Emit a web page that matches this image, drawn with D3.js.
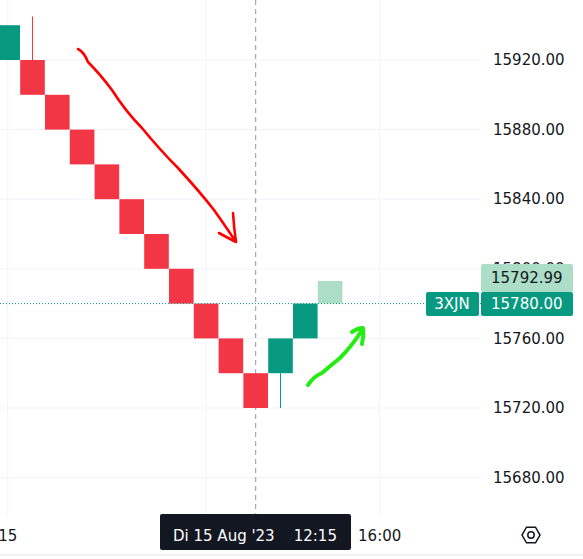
<!DOCTYPE html>
<html lang="en">
<head>
<meta charset="utf-8">
<title>Renko</title>
<style>
  body { margin: 0; background: #fff; }
  svg { display: block; font-family: "DejaVu Sans", sans-serif; }
</style>
</head>
<body>
<svg id="chart" width="583" height="559"></svg>
<script src="https://d3js.org/d3.v7.min.js"></script>
<script>
// renko bricks, box size 20
const brickOpen  = [15920, 15920, 15900, 15880, 15860, 15840, 15820, 15800, 15780, 15760, 15740, 15740, 15760, 15780];
const brickClose = [15940, 15900, 15880, 15860, 15840, 15820, 15800, 15780, 15760, 15740, 15720, 15760, 15780, 15792.99];
const wickHigh   = [null, 15945, null, null, null, null, null, null, null, null, null, null, null, null];
const wickLow    = [null, null, null, null, null, null, null, null, null, null, null, 15720, null, null];
const priceTicks = [15680, 15720, 15760, 15800, 15840, 15880, 15920];
const timeTicks  = [{i: 0, label: "15"}, {i: 15, label: "16:00"}];
const gridIdx    = [0, 8, 15];
const lastPrice = 15780, livePrice = 15792.99, symbol = "3XJN";
const crossIdx = 10, crossLabel = "Di 15 Aug '23    12:15";

const red = "#F23645", green = "#089981", lightGreen = "#ACDDC6";
const svg = d3.select("#chart");
const plotRight = 481, plotBottom = 515;
const fs = 15;

const x = d3.scaleLinear().domain([0, 1]).range([7.7, 32.5]);
const y = d3.scaleLinear().domain([15920, 15720]).range([60, 408]);
const bw = 24.6;

// grid
svg.append("g").selectAll("line").data(priceTicks).join("line")
  .attr("x1", 0).attr("x2", plotRight).attr("y1", d => y(d)).attr("y2", d => y(d))
  .attr("stroke", "#f0f3fa");
svg.append("g").selectAll("line").data(gridIdx).join("line")
  .attr("x1", d => x(d)).attr("x2", d => x(d)).attr("y1", 0).attr("y2", plotBottom)
  .attr("stroke", "#f0f3fa");

// crosshair
svg.append("line").attr("x1", x(crossIdx)).attr("x2", x(crossIdx))
  .attr("y1", 0).attr("y2", plotBottom)
  .attr("stroke", "#9598a1").attr("stroke-dasharray", "5,4");

// wicks
const wicks = brickOpen.map((o, i) => ({i, hi: wickHigh[i], lo: wickLow[i]}));
svg.append("g").selectAll("line").data(wicks.filter(d => d.hi !== null)).join("line")
  .attr("x1", d => x(d.i)).attr("x2", d => x(d.i))
  .attr("y1", d => y(d.hi)).attr("y2", d => y(Math.max(brickOpen[d.i], brickClose[d.i])))
  .attr("stroke", red);
svg.append("g").selectAll("line").data(wicks.filter(d => d.lo !== null)).join("line")
  .attr("x1", d => x(d.i)).attr("x2", d => x(d.i))
  .attr("y1", d => y(d.lo)).attr("y2", d => y(Math.min(brickOpen[d.i], brickClose[d.i])))
  .attr("stroke", green);

// bricks
const last = brickOpen.length - 1;
svg.append("g").selectAll("rect").data(brickOpen).join("rect")
  .attr("x", (d, i) => x(i) - bw / 2)
  .attr("width", bw)
  .attr("y", (d, i) => y(Math.max(d, brickClose[i])))
  .attr("height", (d, i) => Math.abs(y(d) - y(brickClose[i])))
  .attr("fill", (d, i) => i === last ? lightGreen : (brickClose[i] > d ? green : red));

// last price line
svg.append("line").attr("x1", 0).attr("x2", plotRight)
  .attr("y1", y(lastPrice)).attr("y2", y(lastPrice))
  .attr("stroke", green).attr("stroke-dasharray", "1,2");

// hand-drawn arrows
svg.append("path")
  .attr("d", "M78,49 Q84,52 88,62 Q100,74 112,90 Q126,112 142,128 Q160,150 178,168 Q200,192 214,210 Q224,224 236,242 M233,213 Q234,228 236,242 Q228,238 219,233")
  .attr("fill", "none").attr("stroke", "#ff0000").attr("stroke-width", 2.6)
  .attr("stroke-linecap", "round").attr("stroke-linejoin", "round");
svg.append("path")
  .attr("d", "M308,385 Q314,376 322,373 Q330,366 340,358 Q352,346 362,330 M352,332 Q358,328 363,328 Q364,336 362,344")
  .attr("fill", "none").attr("stroke", "#22ee11").attr("stroke-width", 4)
  .attr("stroke-linecap", "round").attr("stroke-linejoin", "round");

// price axis labels
svg.append("g").selectAll("text").data(priceTicks).join("text")
  .attr("x", 493).attr("y", d => y(d)).attr("dy", "0.35em")
  .attr("font-size", fs).attr("fill", "#131722")
  .text(d => d.toFixed(2));

// live price / last price tags
svg.append("rect").attr("x", 481).attr("y", 264).attr("width", 92).attr("height", 28)
  .attr("fill", lightGreen).attr("rx", 2);
svg.append("text").attr("x", 491).attr("y", 278).attr("dy", "0.35em")
  .attr("font-size", fs).attr("fill", "#131722").text(livePrice.toFixed(2));
svg.append("rect").attr("x", 481).attr("y", 292).attr("width", 92).attr("height", 24)
  .attr("fill", green).attr("rx", 2);
svg.append("text").attr("x", 491).attr("y", y(lastPrice)).attr("dy", "0.35em")
  .attr("font-size", fs).attr("fill", "#fff").text(lastPrice.toFixed(2));
svg.append("rect").attr("x", 426).attr("y", 292).attr("width", 53).attr("height", 24)
  .attr("fill", green).attr("rx", 2);
svg.append("text").attr("x", 452).attr("y", y(lastPrice)).attr("dy", "0.35em")
  .attr("text-anchor", "middle").attr("font-size", fs).attr("fill", "#fff").text(symbol);

// time axis
svg.append("line").attr("x1", 0).attr("x2", 583).attr("y1", 555).attr("y2", 555)
  .attr("stroke", "#e0e3eb");
svg.append("g").selectAll("text").data(timeTicks).join("text")
  .attr("x", d => x(d.i)).attr("y", 536).attr("dy", "0.35em")
  .attr("text-anchor", "middle").attr("font-size", fs).attr("fill", "#131722")
  .text(d => d.label);
svg.append("rect").attr("x", 160).attr("y", 514).attr("width", 191).attr("height", 36)
  .attr("fill", "#131722").attr("rx", 2);
svg.append("text").attr("x", 255).attr("y", 536).attr("dy", "0.35em")
  .attr("text-anchor", "middle").attr("font-size", fs).attr("fill", "#fff")
  .attr("xml:space", "preserve").style("white-space", "pre").text(crossLabel);

// settings icon
const hex = d3.range(6).map(k => {
  const a = Math.PI / 3 * k;
  return [531 + 9 * Math.cos(a), 535 + 9 * Math.sin(a)];
});
svg.append("path").attr("d", d3.line()(hex) + "Z").attr("fill", "none")
  .attr("stroke", "#131722").attr("stroke-width", 1.5);
svg.append("circle").attr("cx", 531).attr("cy", 535).attr("r", 3.2)
  .attr("fill", "none").attr("stroke", "#131722").attr("stroke-width", 1.5);
</script>
</body>
</html>
